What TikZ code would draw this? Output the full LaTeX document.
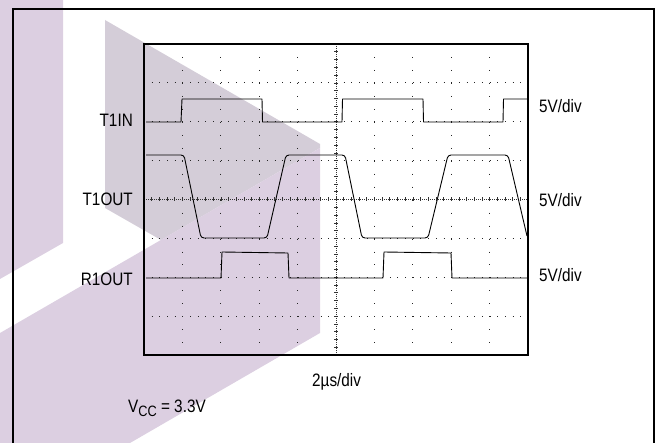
\documentclass[tikz,border=0pt]{standalone}
\usepackage{fontspec}
\setmainfont[FakeStretch=0.85]{Liberation Sans}
\definecolor{wmlilac}{RGB}{220,207,225}
\definecolor{wmgrey}{RGB}{212,205,216}
\tikzset{
  outerframe/.style={line width=1.3pt, black},
  scopeframe/.style={line width=2.6pt, black},
  hgrid/.style={line width=0.9pt, black!85, dash pattern=on 0.9pt off 6.78pt},
  vgrid/.style={line width=0.9pt, black!85, dash pattern=on 0.9pt off 12.07pt},
  cgrid/.style={line width=0.6pt, black!80, dash pattern=on 0.8pt off 1.2pt},
  ctick/.style={line width=0.6pt, black!80},
  trace/.style={line width=0.9pt, black, line join=round},
  lbl/.style={inner sep=0pt, font=\fontsize{18}{20}\selectfont, text=black},
}
\begin{document}
\begin{tikzpicture}[x=1pt,y=-1pt]
\useasboundingbox (0,0) rectangle (656,443);
% watermark
\fill[wmlilac] (0,0) -- (63,0) -- (63,243) -- (0,279) -- cycle;
\fill[wmgrey] (105,20) -- (320,144) -- (320,148) -- (161,240) -- (105,208) -- cycle;
\fill[wmlilac] (0,333) -- (320,148) -- (320,333) -- (130,443) -- (0,443) -- cycle;
% outer frame
\draw[outerframe] (13,444) -- (13,9) -- (654,9) -- (654,444);
% grid
\foreach \k in {1,2,3,4,6,7,8,9} {
  \draw[vgrid] ({144+38.4*\k},44) -- ({144+38.4*\k},355);
}
\foreach \k in {1,2,3,5,6,7} {
  \draw[hgrid] (144,{44+38.875*\k}) -- (528,{44+38.875*\k});
}
% centre crosshair
\draw[cgrid] (144,199.5) -- (528,199.5);
\draw[cgrid] (336,44) -- (336,355);
\foreach \k in {1,...,49} {
  \draw[ctick] ({144+7.68*\k},197.5) -- ({144+7.68*\k},201.5);
}
\foreach \k in {1,...,39} {
  \draw[ctick] (334,{44+7.775*\k}) -- (338,{44+7.775*\k});
}
% scope frame
\draw[scopeframe] (144,44) rectangle (528,355);
% traces
\draw[trace] (146,122) -- (181,122) -- (182,99) -- (262,99) -- (262.5,122) -- (342,122) -- (342.5,99) -- (423,99) -- (423.5,122) -- (503,122) -- (503.5,99) -- (527,99);
\draw[trace, rounded corners=3pt] (146,155) -- (184,155) -- (201,238) -- (267,238) -- (286,155) -- (345,155) -- (362,238) -- (428,238) -- (448,155) -- (508,155) -- (527,236);
\draw[trace] (146,278) -- (221,278) -- (222,252) -- (288,253) -- (289,278) -- (383,278) -- (384,252) -- (451,253) -- (452,278) -- (527,278);
% labels
\node[lbl, anchor=base east] (t1in) at (133,127) {T1IN};
\node[lbl, anchor=base east] (t1out) at (133,206) {T1OUT};
\node[lbl, anchor=base east] (r1out) at (133,286) {R1OUT};
\node[lbl, anchor=base west] (d1) at (539,113) {5V/div};
\node[lbl, anchor=base west] (d2) at (539,207) {5V/div};
\node[lbl, anchor=base west] (d3) at (539,282) {5V/div};
\node[lbl, anchor=base west] (tdiv) at (312,387) {2µs/div};
\node[lbl, anchor=base west] (vcc) at (128,413) {V\raisebox{-3.5pt}{\fontsize{15}{15}\selectfont CC} = 3.3V};
\end{tikzpicture}
\end{document}
